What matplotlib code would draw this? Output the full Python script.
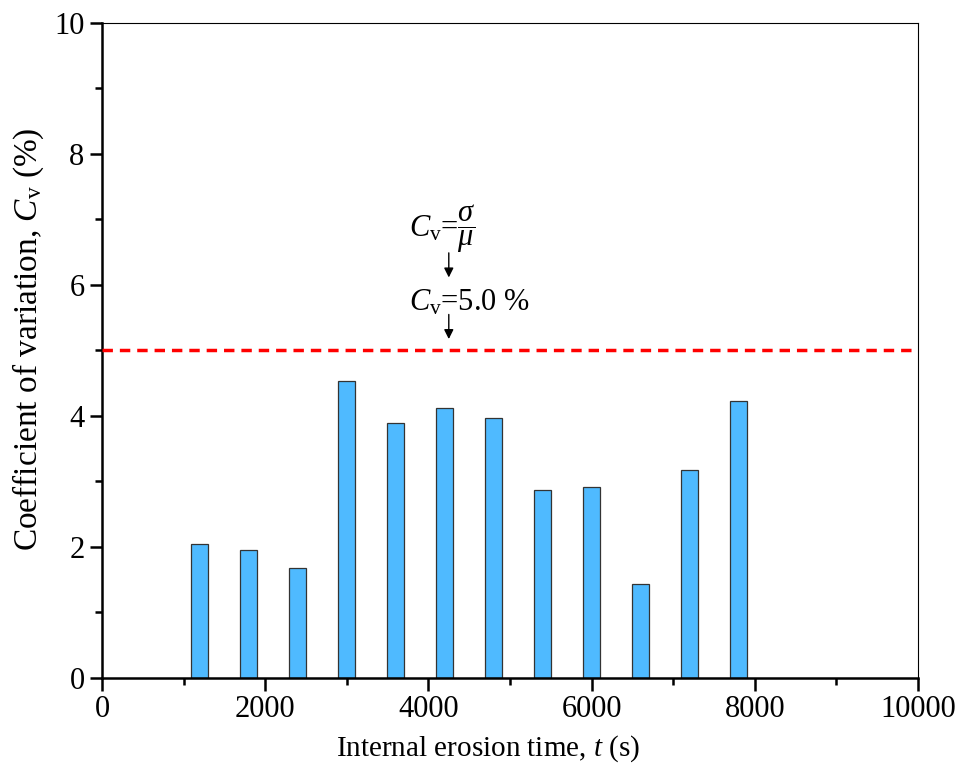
import numpy as np
import matplotlib.pyplot as plt
from matplotlib.ticker import MultipleLocator

plt.rcParams['font.family'] = ['Liberation Serif', 'DejaVu Serif']
plt.rcParams['mathtext.fontset'] = 'custom'
plt.rcParams['mathtext.rm'] = 'Liberation Serif'
plt.rcParams['mathtext.it'] = 'Liberation Serif:italic'

# 侵蝕時間與變異係數
time_s = [1200, 1800, 2400, 3000, 3600, 4200, 4800, 5400, 6000, 6600, 7200, 7800]
cv_pct = [2.05, 1.96, 1.68, 4.53, 3.89, 4.12, 3.96, 2.87, 2.92, 1.44, 3.17, 4.23]
cv_limit = 5.0

fig = plt.figure(figsize=(9.73, 7.7), dpi=100)
ax = fig.add_axes([0.1048, 0.1195, 0.8387, 0.8510])

ax.bar(time_s, cv_pct, width=210, color='#4fbaff', edgecolor='#333333', linewidth=0.9, zorder=2)
ax.axhline(cv_limit, color='red', linestyle=(0, (3, 2)), linewidth=2.5, zorder=3)

# 公式與箭頭
ax.text(3760, 6.73, r'$C_{\rm v}$=$\dfrac{\sigma}{\mu}$', fontsize=22, ha='left', va='baseline')
ax.annotate('', xy=(4250, 6.07), xytext=(4250, 6.53),
            arrowprops=dict(arrowstyle='-|>', color='k', lw=1.0, mutation_scale=14))
ax.text(3760, 5.61, r'$C_{\rm v}$=5.0 %', fontsize=22, ha='left', va='baseline')
ax.annotate('', xy=(4250, 5.13), xytext=(4250, 5.59),
            arrowprops=dict(arrowstyle='-|>', color='k', lw=1.0, mutation_scale=14))

ax.set_xlim(0, 10000)
ax.set_ylim(0, 10)
ax.xaxis.set_major_locator(MultipleLocator(2000))
ax.xaxis.set_minor_locator(MultipleLocator(1000))
ax.yaxis.set_major_locator(MultipleLocator(2))
ax.yaxis.set_minor_locator(MultipleLocator(1))
ax.tick_params(which='both', direction='out', width=1.8, labelsize=22, top=False, right=False)
ax.tick_params(which='major', length=9)
ax.tick_params(which='minor', length=5)
for s in ['left', 'bottom']:
    ax.spines[s].set_linewidth(1.8)
for s in ['top', 'right']:
    ax.spines[s].set_linewidth(0.8)

ax.set_xlabel(r'Internal erosion time, $t$ (s)', fontsize=21)
ax.set_ylabel(r'Coefficient of variation, $C_{\rm v}$ (%)', fontsize=24)
ax.xaxis.set_label_coords(0.473, -0.085)
ax.yaxis.set_label_coords(-0.068, 0.517)

fig.savefig('out.png', dpi=100)
